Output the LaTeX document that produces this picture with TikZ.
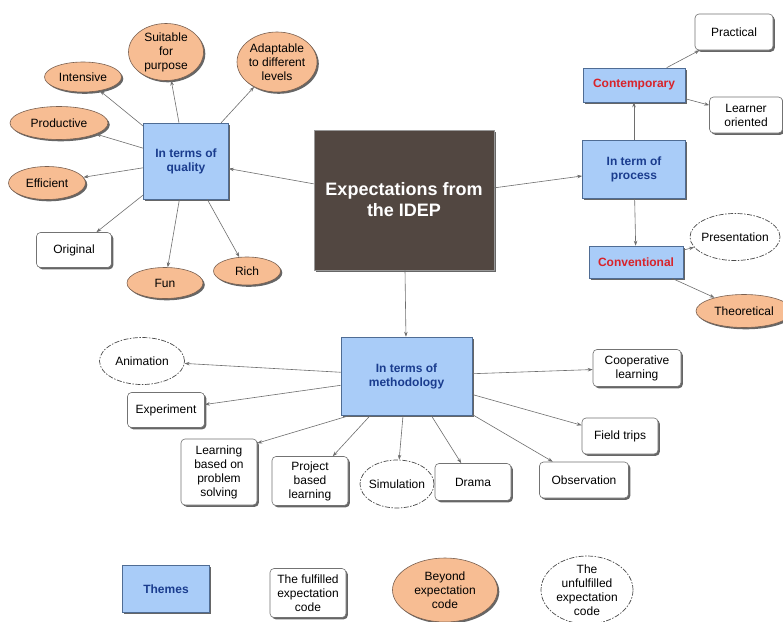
\documentclass[tikz,border=0pt]{standalone}
\usepackage{fontspec}
\setmainfont{Liberation Sans}
\usetikzlibrary{shapes.geometric,shadows,arrows.meta}
\definecolor{boxblue}{HTML}{A9CCF8}
\definecolor{blueline}{HTML}{4F6C94}
\definecolor{textblue}{HTML}{1A3C8E}
\definecolor{peach}{HTML}{F7BD93}
\definecolor{peachline}{HTML}{7A6050}
\definecolor{hubfill}{HTML}{524741}
\definecolor{redtext}{HTML}{D8232A}
\definecolor{conn}{HTML}{6E6E6E}
\begin{document}
\begin{tikzpicture}[x=1pt,y=-1pt,
  every node/.style={align=center, inner sep=0pt, font=\fontsize{12}{14}\selectfont},
  shad/.style={drop shadow={shadow xshift=1.8pt,shadow yshift=-1.8pt,opacity=0.6,fill=black}},
  hubbox/.style={draw=black!40, fill=hubfill, shad, text=white, font=\fontsize{18}{21}\selectfont\bfseries, line width=0.6pt},
  theme/.style={draw=blueline, fill=boxblue, shad, text=textblue, font=\fontsize{12}{14}\selectfont\bfseries, line width=0.6pt},
  wbox/.style={draw=black!55, fill=white, rounded corners=4pt, shad, line width=0.6pt},
  beyond/.style={ellipse, draw=peachline, fill=peach, shad, line width=0.6pt},
  unful/.style={ellipse, draw=black!70, fill=white, line width=0.7pt, dash pattern=on 5pt off 1.5pt on 1.5pt off 1.5pt},
  link/.style={draw=conn, line width=0.6pt, -{Stealth[length=5pt,width=3.5pt]}},
]
\fill[white] (0,0) rectangle (783,621);
\useasboundingbox (0,0) rectangle (783,621);

% hub and themes
\node[hubbox, minimum width=180pt, minimum height=140pt] (hub) at (404,200) {Expectations from\\the IDEP};
\node[theme, minimum width=85pt, minimum height=76pt] (q) at (186,161) {In terms of\\quality};
\node[theme, minimum width=103pt, minimum height=58pt] (p) at (634,169) {In term of\\process};
\node[theme, minimum width=131pt, minimum height=78pt] (m) at (406.5,376) {In terms of\\methodology};
\node[theme, text=redtext, minimum width=102pt, minimum height=34pt] (cont) at (634,85) {Contemporary};
\node[theme, text=redtext, minimum width=94pt, minimum height=32pt] (conv) at (636,262) {Conventional};

% quality
\node[beyond, minimum width=75pt, minimum height=57pt] (suit) at (166,52) {Suitable\\for\\purpose};
\node[beyond, minimum width=80pt, minimum height=60pt, inner xsep=-3pt] (adapt) at (277,62) {Adaptable\\to different\\levels};
\node[beyond, minimum width=77pt, minimum height=30pt] (int) at (83,77) {Intensive};
\node[beyond, minimum width=98pt, minimum height=33pt] (prod) at (59,123) {Productive};
\node[beyond, minimum width=77pt, minimum height=33pt] (eff) at (47,183) {Efficient};
\node[wbox, minimum width=75pt, minimum height=35pt] (orig) at (74,250) {Original};
\node[beyond, minimum width=76pt, minimum height=31pt] (fun) at (165,283) {Fun};
\node[beyond, minimum width=67pt, minimum height=28pt] (rich) at (247,271) {Rich};

% process
\node[wbox, minimum width=78pt, minimum height=36pt] (prac) at (734,32) {Practical};
\node[wbox, minimum width=73pt, minimum height=36pt] (learn) at (746,115) {Learner\\oriented};
\node[unful, minimum width=90pt, minimum height=47pt, inner xsep=-4pt] (pres) at (735,237) {Presentation};
\node[beyond, minimum width=96pt, minimum height=33pt] (theo) at (744,311) {Theoretical};

% methodology
\node[unful, minimum width=85pt, minimum height=47pt] (anim) at (142,361) {Animation};
\node[wbox, minimum width=77pt, minimum height=35pt] (exper) at (166,410) {Experiment};
\node[wbox, minimum width=76pt, minimum height=66pt] (lp) at (219,472) {Learning\\based on\\problem\\solving};
\node[wbox, minimum width=76pt, minimum height=49pt] (proj) at (310,481) {Project\\based\\learning};
\node[unful, minimum width=74pt, minimum height=48pt, inner xsep=-4pt] (sim) at (397,484) {Simulation};
\node[wbox, minimum width=76pt, minimum height=37pt] (drama) at (473,482) {Drama};
\node[wbox, minimum width=89pt, minimum height=36pt] (obs) at (584,480) {Observation};
\node[wbox, minimum width=76pt, minimum height=36pt] (field) at (620,436) {Field trips};
\node[wbox, minimum width=88pt, minimum height=37pt] (coop) at (637,368) {Cooperative\\learning};

% legend
\node[theme, minimum width=87pt, minimum height=47pt] (lt) at (166,589) {Themes};
\node[wbox, minimum width=76pt, minimum height=49pt] (lf) at (308,593) {The fulfilled\\expectation\\code};
\node[beyond, minimum width=105pt, minimum height=64pt] (lb) at (445,590) {Beyond\\expectation\\code};
\node[unful, minimum width=92pt, minimum height=68pt, inner ysep=-5pt] (lu) at (587,590) {The\\unfulfilled\\expectation\\code};

% connectors
\draw[link] (hub) -- (q);
\draw[link] (hub) -- (p);
\draw[link] (hub) -- (m);
\foreach \t in {suit,adapt,int,prod,eff,orig,fun,rich} \draw[link] (q) -- (\t);
\draw[link] (p) -- (cont);
\draw[link] (p) -- (conv);
\draw[link] (cont) -- (prac);
\draw[link] (cont) -- (learn);
\draw[link] (conv) -- (pres);
\draw[link] (conv) -- (theo);
\foreach \t in {anim,exper,proj,sim,drama,obs,field,coop} \draw[link] (m) -- (\t);
\draw[link] (m.215.6) -- (lp.37);
\end{tikzpicture}
\end{document}
